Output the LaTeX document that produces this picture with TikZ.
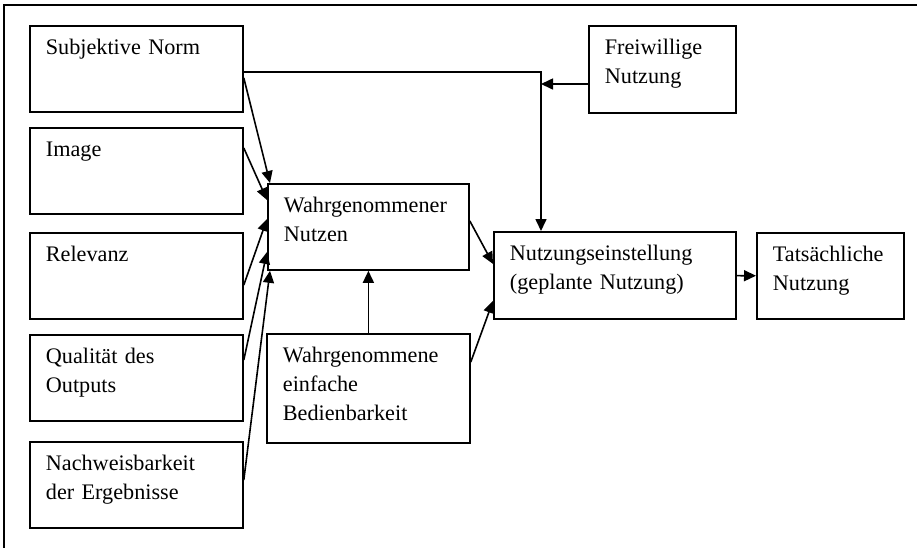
\documentclass[tikz,border=0pt]{standalone}
\usepackage{fontspec}
\setmainfont{Liberation Serif}
\usetikzlibrary{arrows.meta}

\begin{document}
\begin{tikzpicture}[x=0.5pt,y=-0.5pt,
box/.style={
rectangle,
draw,
line width=0.9pt,
anchor=north west,
align=left,
inner xsep=8pt,
inner ysep=0pt,
text height=14.5pt,
font=\fontsize{11.1pt}{14.5pt}\selectfont
},
pfeil/.style={line width=0.8pt,-{Triangle[length=6pt,width=5.5pt]}},
]
\useasboundingbox (0,0) rectangle (917,548);
\draw[line width=0.8pt] (917,5) -- (4,5) -- (4,548);

\node (norm) [box, text width=90.5pt, text depth=28.5pt] at (29,25) {Subjektive Norm};
\node (image) [box, text width=90.5pt, text depth=28.5pt] at (29,127) {Image};
\node (relevanz) [box, text width=90.5pt, text depth=28.5pt] at (29,232) {Relevanz};
\node (output) [box, text width=90.5pt, text depth=28.5pt] at (29,334) {Qualität des\\Outputs};
\node (nachweis) [box, text width=90.5pt, text depth=28.5pt] at (29,441) {Nachweisbarkeit\\der Ergebnisse};
\node (nutzen) [box, text width=84.5pt, text depth=28.5pt] at (267,183) {Wahrgenommener\\Nutzen};
\node (bedien) [box, text width=85.5pt, text depth=40pt] at (266,333) {Wahrgenommene\\einfache\\Bedienbarkeit};
\node (einst) [box, text width=105pt, text depth=29pt] at (493,231) {Nutzungseinstellung\\(geplante Nutzung)};
\node (tats) [box, text width=57.5pt, text depth=28.5pt] at (756,232) {Tatsächliche\\Nutzung};
\node (frei) [box, text width=57.5pt, text depth=29pt] at (588,25) {Freiwillige\\Nutzung};

\coordinate (knick) at ([xshift=24pt]einst.north west);
\coordinate (freiaus) at ([yshift=-29.5pt]frei.north west);
\draw[pfeil] ([yshift=-1.5pt]norm.east) -| (knick);
\draw[pfeil] (freiaus) -- (freiaus -| knick);
\draw[pfeil] ([yshift=-4.5pt]norm.east) -- ([xshift=1.5pt]nutzen.north west);
\draw[pfeil] ([yshift=-10.5pt]image.north east) -- ([yshift=-8.5pt]nutzen.north west);
\draw[pfeil] ([yshift=-26.5pt]relevanz.north east) -- ([yshift=-18pt]nutzen.north west);
\draw[pfeil] ([yshift=-13pt]output.north east) -- ([yshift=-34.5pt]nutzen.north west);
\draw[pfeil] ([yshift=-19.5pt]nachweis.north east) -- ([xshift=1.5pt]nutzen.south west);
\draw[pfeil] (bedien) -- (nutzen);
\draw[pfeil] ([yshift=3pt]nutzen.east) -- ([yshift=5.75pt]einst.west);
\draw[pfeil] ([yshift=-14.5pt]bedien.north east) -- ([yshift=-12.75pt]einst.west);
\draw[pfeil] (einst) -- (tats);
\end{tikzpicture}
\end{document}
